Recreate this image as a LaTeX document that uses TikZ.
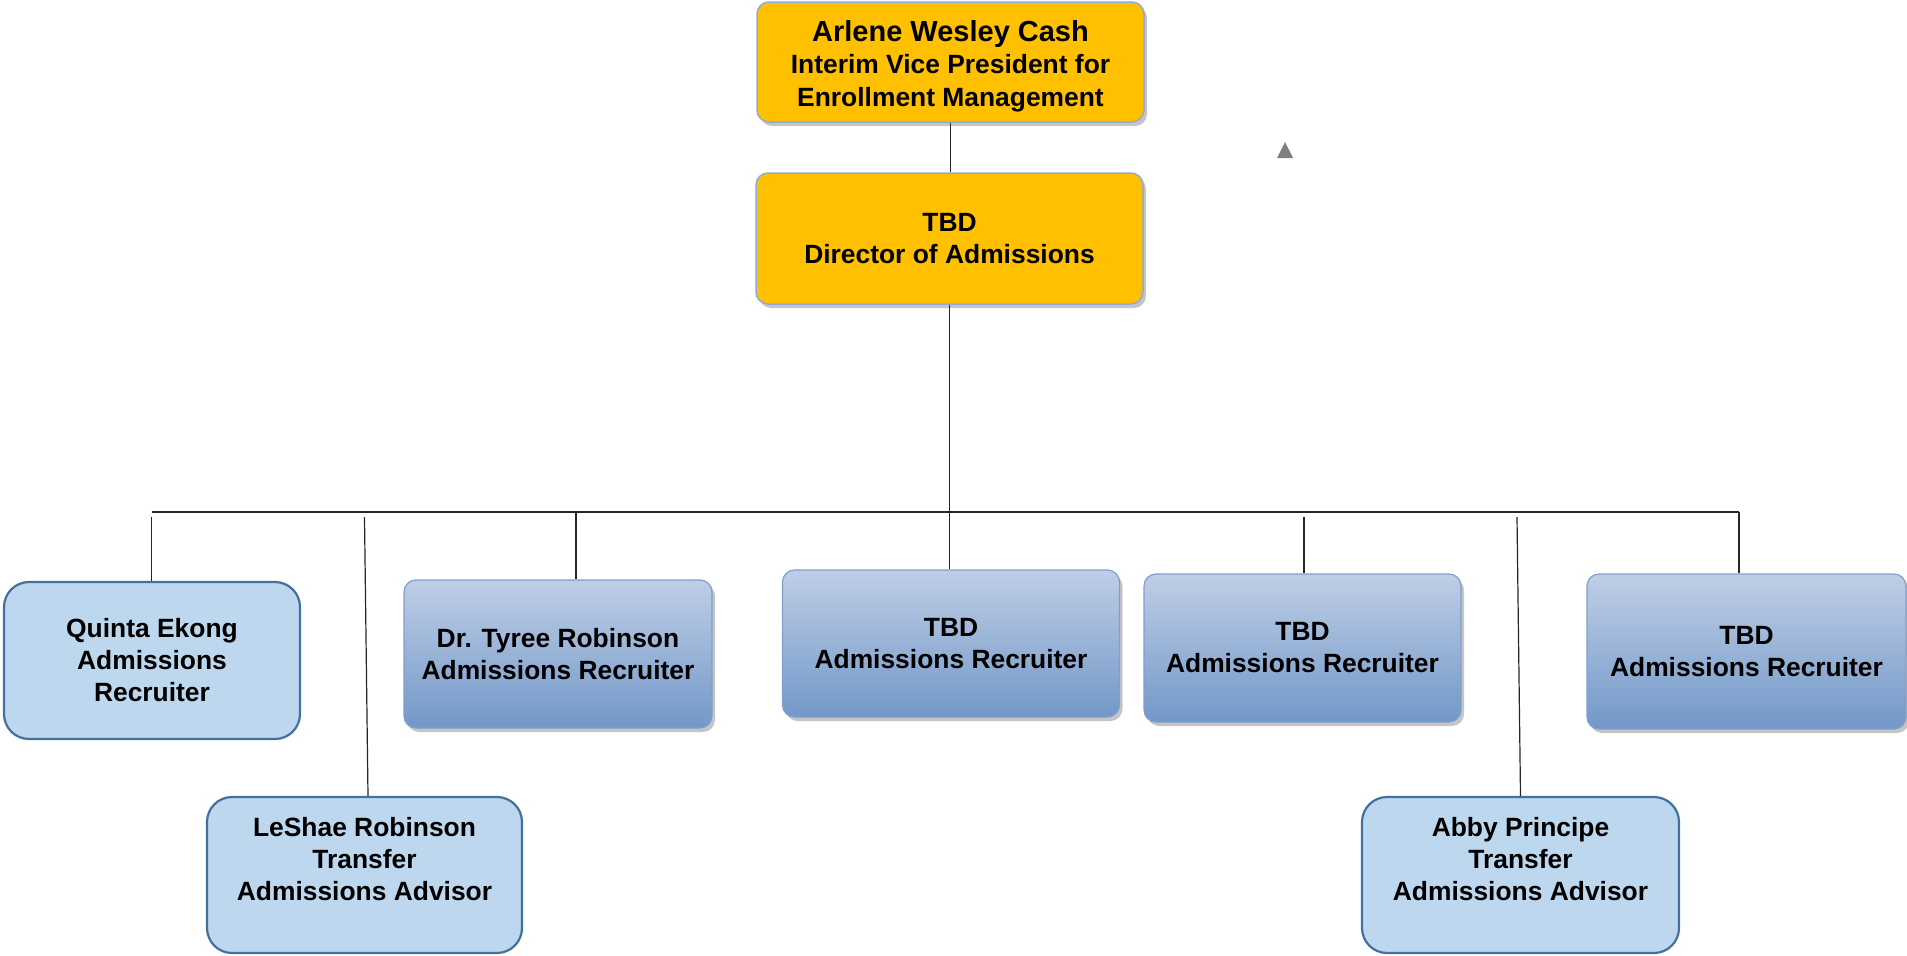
\documentclass[tikz,border=0pt]{standalone}
\usepackage{fontspec}
\setmainfont{Liberation Sans}
\usetikzlibrary{shadows}
\definecolor{vpgold}{HTML}{FFC000}
\definecolor{goldedge}{HTML}{8FAADC}
\definecolor{bluetop}{HTML}{BFCEE6}
\definecolor{bluebot}{HTML}{7298C8}
\definecolor{blueedge}{HTML}{7E9FCF}
\definecolor{lightfill}{HTML}{BDD7EE}
\definecolor{lightedge}{HTML}{41719C}
\definecolor{markgray}{HTML}{7F7F7F}
\begin{document}
\begin{tikzpicture}[x=1pt,y=-1pt,
	box/.style={rectangle,align=center,inner sep=4pt,font=\bfseries\fontsize{26.4}{32}\selectfont},
	goldbox/.style={box,rounded corners=12pt,draw=goldedge,line width=1.5pt,fill=vpgold,minimum width=387pt,drop shadow={shadow xshift=3pt,shadow yshift=-4pt,fill=black!45,opacity=.5}},
	recbox/.style={box,rounded corners=12pt,draw=blueedge,line width=1.2pt,top color=bluetop,bottom color=bluebot,drop shadow={shadow xshift=3pt,shadow yshift=-4pt,fill=black!45,opacity=.5}},
	lightbox/.style={box,rounded corners=25pt,draw=lightedge,line width=2.2pt,fill=lightfill},
	link/.style={draw=black!85,line width=1.2pt}]
				\useasboundingbox (0,0) rectangle (1907,956);
				\node (vp) [goldbox,minimum height=120pt,font=\bfseries\fontsize{26.4}{32.7}\selectfont] at (950.5,62) {{\fontsize{29}{32.7}\selectfont\rule{0pt}{29pt}Arlene Wesley Cash}\\Interim Vice President for\\Enrollment Management};
				\node (dir) [goldbox,minimum height=131pt] at (949.5,238.5) {TBD\\Director of Admissions};
				\node (quinta) [lightbox,minimum width=296pt,minimum height=157pt] at (152,660.5) {Quinta Ekong\\Admissions\\Recruiter};
				\node (leshae) [lightbox,minimum width=315pt,minimum height=156pt] at (364.5,875) {LeShae Robinson\\Transfer\\Admissions Advisor\\\mbox{}};
				\node (tyree) [recbox,minimum width=308pt,minimum height=148pt] at (558,654) {Dr. Tyree Robinson\\Admissions Recruiter};
				\node (tbd1) [recbox,minimum width=337pt,minimum height=147pt] at (951,643.5) {TBD\\Admissions Recruiter};
				\node (tbd2) [recbox,minimum width=317pt,minimum height=148pt] at (1302.5,648) {TBD\\Admissions Recruiter};
				\node (tbd3) [recbox,minimum width=319pt,minimum height=155pt] at (1746.5,651.5) {TBD\\Admissions Recruiter};
				\node (abby) [lightbox,minimum width=317pt,minimum height=156pt] at (1520.5,875) {Abby Principe\\Transfer\\Admissions Advisor\\\mbox{}};
				\coordinate (busl) at (151.5,512);
				\coordinate (busr) at (1739,512);
				\coordinate (qtop) at (151.5,517);
				\coordinate (ltop) at (364.5,517);
				\coordinate (ttop) at (576,512);
				\coordinate (b2top) at (1304,517);
				\coordinate (atop) at (1517,517);
				\draw [link](vp.south) -- (vp.south |- dir.north);
				\draw [link](dir.south) -- (dir.south |- tbd1.north);
				\draw [link](busl) -- (busr);
				\draw [link](qtop) -- (qtop |- quinta.north);
				\draw [link](ltop) -- ([xshift=3.5pt]leshae.north);
				\draw [link](ttop) -- (ttop |- tyree.north);
				\draw [link](b2top) -- (b2top |- tbd2.north);
				\draw [link](busr) -- (busr |- tbd3.north);
				\draw [link](atop) -- (abby.north);
				\fill [markgray](1285,142) -- (1277,158) -- (1293,158) -- cycle;
			\end{tikzpicture}
\end{document}
